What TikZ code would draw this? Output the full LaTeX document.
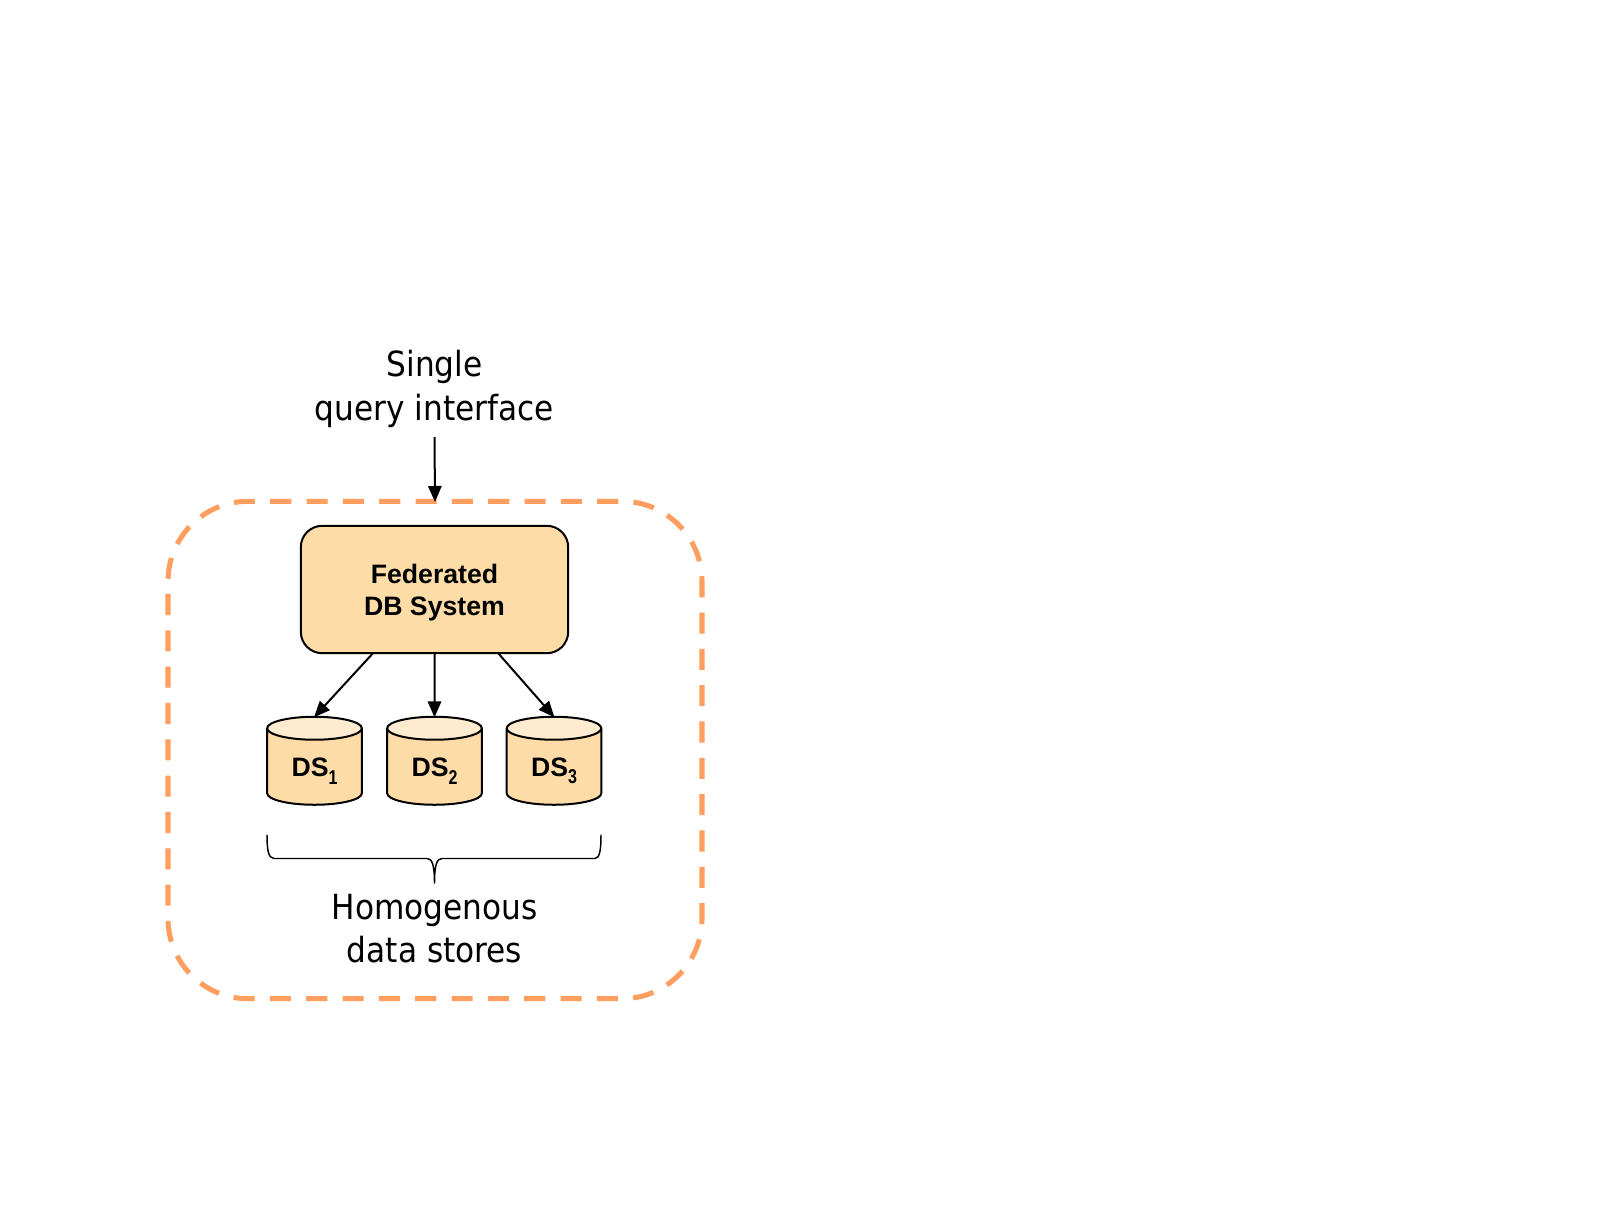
\documentclass[tikz,border=0pt]{standalone}
\usepackage{fontspec}
\setmainfont{DejaVu Sans Condensed}
\newfontfamily\boldface[BoldFont=Liberation Sans Bold]{Liberation Sans}
\usetikzlibrary{arrows.meta,shapes.geometric}
\definecolor{peach}{HTML}{FEDCA8}
\definecolor{peachtop}{HTML}{FEEBD0}
\definecolor{fenceorange}{HTML}{FF9E5E}
\newcommand{\dssub}[1]{\raisebox{-5.5pt}{\scalebox{0.8}[1]{\fontsize{15}{15}\selectfont #1}}}
\tikzset{
  caption/.style={align=center,font=\fontsize{26}{32}\selectfont},
  link/.style={line width=1.5pt,-{Triangle[length=12pt,width=10pt]},shorten >=-0.5pt},
  dbstore/.style={cylinder,shape border rotate=90,aspect=0.5,draw,line width=1.5pt,
    cylinder uses custom fill,cylinder body fill=peach,cylinder end fill=peachtop,
    minimum width=71pt,minimum height=66pt,outer sep=0pt,inner sep=0pt,
    font=\boldface\bfseries\fontsize{20}{24}\selectfont},
}
\begin{document}
\begin{tikzpicture}[x=0.75pt,y=-0.75pt]
\useasboundingbox (0,0) rectangle (1614,1211);

\node[draw=fenceorange,line width=3.8pt,rounded corners=60pt,dash pattern=on 15.8pt off 11.445pt,dash phase=24.43pt,
  minimum width=400.5pt,minimum height=373pt,outer sep=0pt] (fence) at (435,750) {};
\node[draw,fill=peach,line width=1.5pt,rounded corners=16pt,minimum width=200.5pt,minimum height=95.5pt,
  outer sep=0pt,align=center,font=\boldface\bfseries\fontsize{20}{24}\selectfont] (fed) at (434.5,589.5) {\rule{0pt}{19pt}Federated\\DB System};

\node[dbstore] (ds1) at (314.5,767) {\rule{0pt}{20pt}DS\dssub{1}};
\node[dbstore] (ds2) at (434.5,767) {\rule{0pt}{20pt}DS\dssub{2}};
\node[dbstore] (ds3) at (554,767) {\rule{0pt}{20pt}DS\dssub{3}};

\node[caption] (iface) at (434.5,389) {Single\\[0.6pt]query interface};
\coordinate (ifacein) at (434.5,437);
\draw[link] (ifacein) -- (fence.north);

\draw[link] (fed.-134.5) -- (ds1.north);
\draw[link] (fed.south) -- (ds2.north);
\draw[link] (fed.-45.5) -- (ds3.north);

% brace under the stores
\draw[line width=1.1pt] (267,834.5) .. controls (267,848.5) and (268,858.5) .. (274,858.5) -- (427,858.5)
  .. controls (432,858.5) and (434.5,864.5) .. (434.5,883.5) .. controls (434.5,864.5) and (437,858.5) .. (442,858.5)
  -- (595,858.5) .. controls (600,858.5) and (601,848.5) .. (601,834.5);
\node[caption] (stores) at (434.5,928.5) {Homogenous\\data stores};
\end{tikzpicture}
\end{document}
